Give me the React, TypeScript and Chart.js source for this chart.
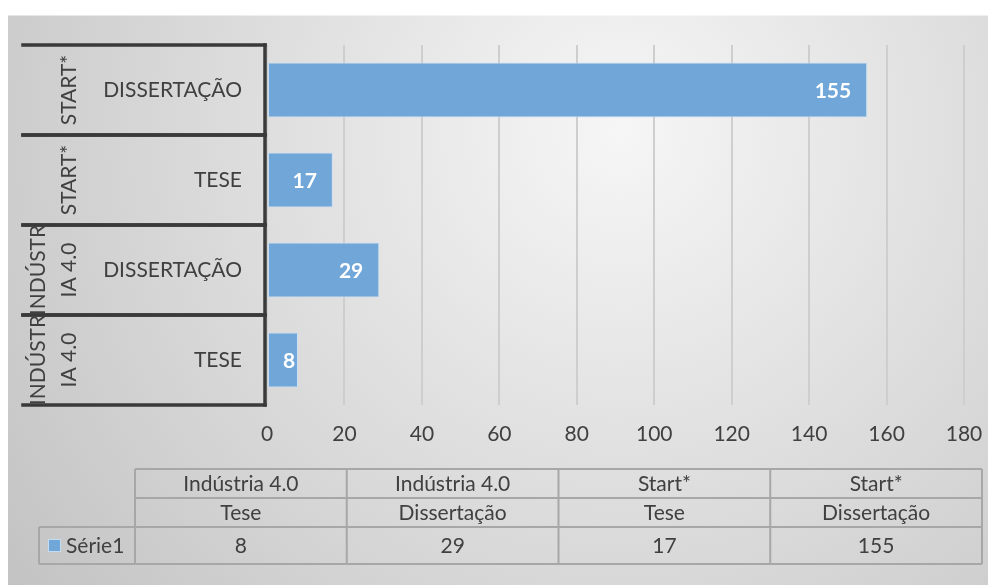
import React, { useEffect, useRef } from 'react';
import { Chart, registerables } from 'chart.js';

Chart.register(...registerables);

// ---- data ----
const groups = ['Indústria 4.0', 'Indústria 4.0', 'Start*', 'Start*'];
const types = ['Tese', 'Dissertação', 'Tese', 'Dissertação'];
const seriesName = 'Série1';
const values = [8, 29, 17, 155];
const xMin = 0;
const xMax = 180;
const xStep = 20;

// ---- style ----
const FONT = 'Lato';
const TEXT = '#404040';
const BAR = 'rgb(112,166,216)';
const BAR_EDGE = 'rgba(200,222,243,0.95)';
const BOX = '#3a3a3a';
const TABLE_LINE = '#a7a7a7';
const FS = 21;

function wrapText(ctx: CanvasRenderingContext2D, text: string, maxW: number): string[] {
  const words = text.split(' ');
  const lines: string[] = [];
  let cur = '';
  const push = (w: string) => {
    const cand = cur ? cur + ' ' + w : w;
    if (ctx.measureText(cand).width <= maxW) {
      cur = cand;
      return;
    }
    if (cur) {
      lines.push(cur);
      cur = '';
    }
    if (ctx.measureText(w).width <= maxW) {
      cur = w;
      return;
    }
    let piece = '';
    for (const ch of w) {
      if (ctx.measureText(piece + ch).width > maxW && piece) {
        lines.push(piece);
        piece = ch;
      } else piece += ch;
    }
    cur = piece;
  };
  words.forEach(push);
  if (cur) lines.push(cur);
  return lines;
}

const bgPlugin = {
  id: 'bgPlugin',
  beforeDraw(chart: any) {
    const { ctx, width, height } = chart;
    ctx.save();
    const g = ctx.createRadialGradient(612, 115, 0, 612, 115, 760);
    g.addColorStop(0, '#f6f6f6');
    g.addColorStop(1, '#c3c3c3');
    ctx.fillStyle = g;
    ctx.fillRect(0, 0, width, height);
    ctx.strokeStyle = 'rgba(255,255,255,0.5)';
    ctx.lineWidth = 1;
    ctx.beginPath();
    ctx.moveTo(0, 0.5);
    ctx.lineTo(width, 0.5);
    ctx.stroke();
    ctx.restore();
  },
};

const dataLabelPlugin = {
  id: 'dataLabelPlugin',
  afterDatasetsDraw(chart: any) {
    const { ctx } = chart;
    const meta = chart.getDatasetMeta(0);
    ctx.save();
    ctx.font = `bold ${FS}px ${FONT}`;
    ctx.fillStyle = '#ffffff';
    ctx.textAlign = 'right';
    ctx.textBaseline = 'middle';
    meta.data.forEach((bar: any, i: number) => {
      const { x, y, base } = bar.getProps(['x', 'y', 'base'], true);
      const txt = String(values[i]);
      const w = ctx.measureText(txt).width;
      const xr = Math.max(x - 16, base + 15 + w);
      ctx.fillText(txt, xr, y + 1);
    });
    ctx.restore();
  },
};

const categoryBoxPlugin = {
  id: 'categoryBoxPlugin',
  afterDraw(chart: any) {
    const { ctx, chartArea } = chart;
    const ys = chart.scales.y;
    const n = values.length;
    const band = Math.abs(ys.getPixelForValue(1) - ys.getPixelForValue(0));
    const left = 15;
    const right = chartArea.left - 2;
    ctx.save();
    ctx.strokeStyle = BOX;
    ctx.lineWidth = 3.5;
    ctx.lineCap = 'square';
    let topMost = Infinity;
    let botMost = -Infinity;
    for (let i = 0; i < n; i++) {
      const c = ys.getPixelForValue(i);
      const t = c - band / 2;
      const b = c + band / 2;
      topMost = Math.min(topMost, t);
      botMost = Math.max(botMost, b);
      ctx.beginPath();
      ctx.moveTo(left, t);
      ctx.lineTo(right, t);
      ctx.moveTo(left, b);
      ctx.lineTo(right, b);
      ctx.stroke();
    }
    ctx.beginPath();
    ctx.moveTo(right, topMost);
    ctx.lineTo(right, botMost);
    ctx.stroke();

    // group labels (rotated)
    ctx.font = `${FS}px ${FONT}`;
    ctx.fillStyle = TEXT;
    ctx.textAlign = 'center';
    ctx.textBaseline = 'middle';
    for (let i = 0; i < n; i++) {
      const c = ys.getPixelForValue(i);
      const lines = wrapText(ctx, groups[i].toUpperCase(), band + 6);
      ctx.save();
      ctx.translate(61, c);
      ctx.rotate(-Math.PI / 2);
      lines.forEach((ln, k) => {
        ctx.fillText(ln, 0, (k - (lines.length - 1)) * 31);
      });
      ctx.restore();
    }
    ctx.restore();
  },
};

const tablePlugin = {
  id: 'tablePlugin',
  afterDraw(chart: any) {
    const { ctx } = chart;
    const colStart = 127;
    const colW = 211.75;
    const n = values.length;
    const cols = Array.from({ length: n + 1 }, (_, i) => colStart + i * colW);
    const rows = [454, 483, 512, 549];
    const legendLeft = 31;
    const right = cols[n];
    ctx.save();
    ctx.strokeStyle = TABLE_LINE;
    ctx.lineWidth = 2;
    ctx.beginPath();
    ctx.moveTo(cols[0], rows[0]);
    ctx.lineTo(right, rows[0]);
    ctx.moveTo(cols[0], rows[1]);
    ctx.lineTo(right, rows[1]);
    ctx.moveTo(legendLeft, rows[2]);
    ctx.lineTo(right, rows[2]);
    ctx.moveTo(legendLeft, rows[3]);
    ctx.lineTo(right, rows[3]);
    cols.forEach((cx) => {
      ctx.moveTo(cx, rows[0]);
      ctx.lineTo(cx, rows[3]);
    });
    ctx.moveTo(legendLeft, rows[2]);
    ctx.lineTo(legendLeft, rows[3]);
    ctx.stroke();

    ctx.font = `${FS}px ${FONT}`;
    ctx.fillStyle = TEXT;
    ctx.textAlign = 'center';
    ctx.textBaseline = 'middle';
    for (let i = 0; i < n; i++) {
      const cx = (cols[i] + cols[i + 1]) / 2;
      ctx.fillText(groups[i], cx, (rows[0] + rows[1]) / 2 + 1);
      ctx.fillText(types[i], cx, (rows[1] + rows[2]) / 2 + 1);
      ctx.fillText(String(values[i]), cx, (rows[2] + rows[3]) / 2 + 1);
    }
    // legend key
    const my = (rows[2] + rows[3]) / 2;
    ctx.fillStyle = BAR;
    ctx.fillRect(40, my - 6.5, 13, 13);
    ctx.strokeStyle = BAR_EDGE;
    ctx.lineWidth = 1;
    ctx.strokeRect(40.5, my - 6, 12, 12);
    ctx.fillStyle = TEXT;
    ctx.textAlign = 'left';
    ctx.fillText(seriesName, 58, my + 1);
    ctx.restore();
  },
};

export default function App() {
  const ref = useRef<HTMLCanvasElement | null>(null);

  useEffect(() => {
    if (!ref.current) return;
    Chart.defaults.font.family = FONT;
    const chart = new Chart(ref.current, {
      type: 'bar',
      data: {
        labels: types,
        datasets: [
          {
            label: seriesName,
            data: values,
            backgroundColor: BAR,
            borderColor: BAR_EDGE,
            borderWidth: 1,
            borderSkipped: false,
            categoryPercentage: 1,
            barPercentage: 0.61,
          },
        ],
      },
      options: {
        indexAxis: 'y',
        responsive: false,
        animation: false,
        layout: { padding: { top: 30, right: 32, left: 0, bottom: 0 } },
        plugins: {
          legend: { display: false },
          tooltip: { enabled: false },
        },
        scales: {
          x: {
            min: xMin,
            max: xMax,
            ticks: {
              stepSize: xStep,
              color: TEXT,
              font: { family: FONT, size: FS },
              padding: 17,
            },
            grid: { color: '#cecece', lineWidth: 2, drawTicks: false },
            border: { display: false },
            afterFit(s: any) {
              s.height = 180;
              s.paddingLeft = 0;
              s.paddingRight = 0;
            },
          },
          y: {
            reverse: true,
            ticks: {
              color: TEXT,
              font: { family: FONT, size: FS },
              padding: 25,
              callback(this: any, v: any) {
                return String(this.getLabelForValue(v)).toUpperCase();
              },
            },
            grid: { display: false, drawTicks: false },
            border: { display: false },
            afterFit(s: any) {
              s.width = 259;
              s.paddingTop = 0;
              s.paddingBottom = 0;
            },
          },
        },
      } as any,
      plugins: [bgPlugin, dataLabelPlugin, categoryBoxPlugin, tablePlugin],
    });
    return () => chart.destroy();
  }, []);

  return (
    <div style={{ paddingTop: 7 }}>
      <canvas ref={ref} width={988} height={570} style={{ display: 'block' }} />
    </div>
  );
}
